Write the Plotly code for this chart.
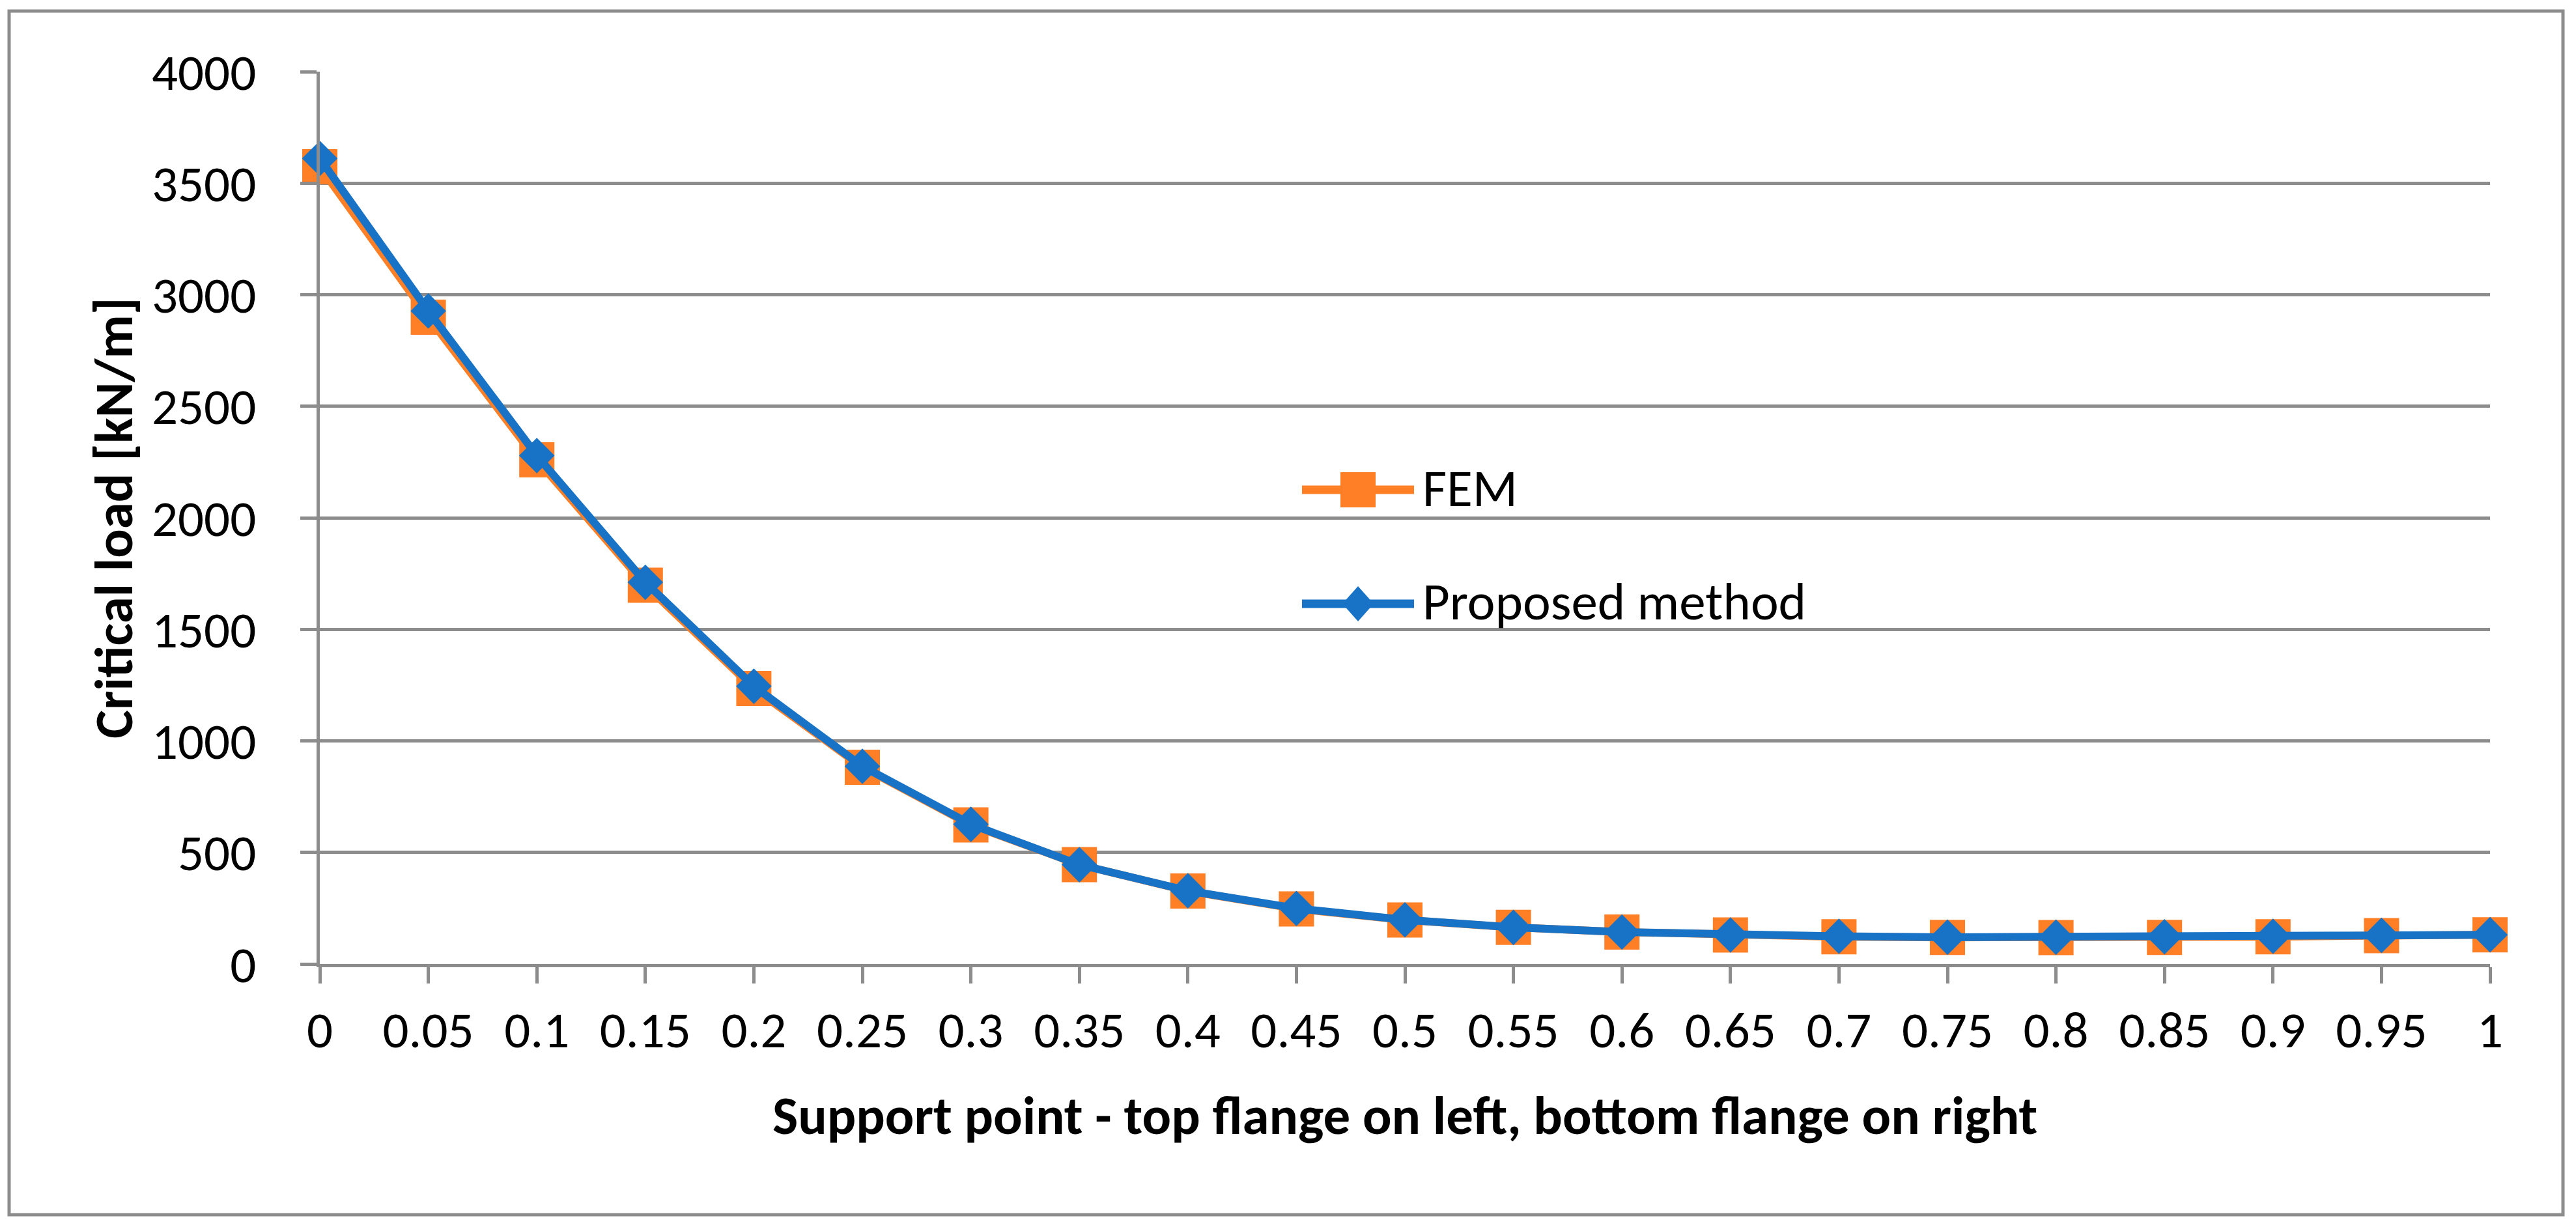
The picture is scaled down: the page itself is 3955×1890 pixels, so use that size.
import plotly.graph_objects as go

support_point = [0, 0.05, 0.1, 0.15, 0.2, 0.25, 0.3, 0.35, 0.4, 0.45, 0.5,
                 0.55, 0.6, 0.65, 0.7, 0.75, 0.8, 0.85, 0.9, 0.95, 1]
tick_labels = ["0", "0.05", "0.1", "0.15", "0.2", "0.25", "0.3", "0.35", "0.4", "0.45", "0.5",
               "0.55", "0.6", "0.65", "0.7", "0.75", "0.8", "0.85", "0.9", "0.95", "1"]
fem = [3574, 2899, 2260, 1698, 1235, 882, 623, 445, 327, 247, 197,
       164, 143, 130, 122, 119, 118, 119, 122, 127, 131]
proposed = [3611, 2927, 2279, 1711, 1245, 886, 626, 445, 328, 249, 198,
            164, 143, 130, 124, 120, 120, 122, 124, 128, 131]
y_ticks = [0, 500, 1000, 1500, 2000, 2500, 3000, 3500, 4000]
series_names = ["FEM", "Proposed method"]

ORANGE = "#FF7F27"
BLUE = "#1873C6"
GRID = "#8C8C8C"
FONT = "Carlito, Lato, sans-serif"
TICK_SIZE = 79
LEGEND_SIZE = 81
TITLE_SIZE = 83

W, H = 3955, 1890
L, R, T, B = 491, 3823, 110, 1480
PW, PH = R - L, B - T


def px(x):
    return (x - L) / PW


def py(y):
    return (B - y) / PH


fig = go.Figure()
fig.add_trace(go.Scatter(
    x=support_point, y=fem, name=series_names[0], mode="lines+markers",
    line=dict(color=ORANGE, width=12),
    marker=dict(symbol="square", size=54, color=ORANGE),
    showlegend=False, cliponaxis=False))
fig.add_trace(go.Scatter(
    x=support_point, y=proposed, name=series_names[1], mode="lines+markers",
    line=dict(color=BLUE, width=12),
    marker=dict(symbol="diamond", size=42, color=BLUE),
    showlegend=False, cliponaxis=False))

fig.update_layout(
    width=W, height=H,
    margin=dict(l=L, r=W - R, t=T, b=H - B, pad=0),
    paper_bgcolor="white", plot_bgcolor="white",
    font=dict(family=FONT, size=TICK_SIZE, color="black"),
    xaxis=dict(
        range=[0, 1], tickmode="array", tickvals=support_point, ticktext=tick_labels,
        showgrid=False, zeroline=False,
        showline=True, linecolor=GRID, linewidth=5,
        ticks="outside", ticklen=25, tickwidth=5, tickcolor=GRID,
        ticklabelstandoff=3, tickfont=dict(size=TICK_SIZE, family=FONT),
    ),
    yaxis=dict(
        range=[0, 4000], tickmode="array", tickvals=y_ticks,
        ticktext=[str(v) for v in y_ticks],
        showgrid=True, gridcolor=GRID, gridwidth=5, zeroline=False,
        showline=True, linecolor=GRID, linewidth=5,
        ticks="outside", ticklen=25, tickwidth=5, tickcolor=GRID,
        ticklabelstandoff=52, tickfont=dict(size=TICK_SIZE, family=FONT),
    ),
)

shapes = []
# chart border
shapes.append(dict(type="rect", xref="paper", yref="paper",
                   x0=px(14), x1=px(3935), y0=py(1865), y1=py(17),
                   line=dict(color=GRID, width=5), fillcolor="rgba(0,0,0,0)", layer="below"))
# custom legend samples
leg_cx = px(2085)
for (cy, color, kind) in [(752, ORANGE, "square"), (927, BLUE, "diamond")]:
    shapes.append(dict(type="line", xref="paper", yref="paper",
                       xsizemode="pixel", xanchor=leg_cx, x0=-86, x1=86,
                       ysizemode="pixel", yanchor=py(cy), y0=0, y1=0,
                       line=dict(color=color, width=13)))
    if kind == "square":
        shapes.append(dict(type="rect", xref="paper", yref="paper",
                           xsizemode="pixel", xanchor=leg_cx, x0=-27, x1=27,
                           ysizemode="pixel", yanchor=py(cy), y0=-27, y1=27,
                           fillcolor=color, line=dict(width=0)))
    else:
        shapes.append(dict(type="path", xref="paper", yref="paper",
                           xsizemode="pixel", xanchor=leg_cx,
                           ysizemode="pixel", yanchor=py(cy),
                           path="M 0 -27 L 24 0 L 0 27 L -24 0 Z",
                           fillcolor=color, line=dict(width=0)))
fig.update_layout(shapes=shapes)

annotations = [
    dict(text=series_names[0], xref="paper", yref="paper", x=px(2182), y=py(749),
         xanchor="left", yanchor="middle", showarrow=False,
         font=dict(size=LEGEND_SIZE, family=FONT, color="black")),
    dict(text=series_names[1], xref="paper", yref="paper", x=px(2182), y=py(924),
         xanchor="left", yanchor="middle", showarrow=False,
         font=dict(size=LEGEND_SIZE, family=FONT, color="black")),
    dict(text="<b>Support point - top flange on left, bottom flange on right</b>",
         xref="paper", yref="paper", x=0.5, y=py(1712),
         xanchor="center", yanchor="middle", showarrow=False,
         font=dict(size=TITLE_SIZE, family=FONT, color="black")),
    dict(text="<b>Critical load [kN/m]</b>", xref="paper", yref="paper",
         x=px(174), y=py(795), xanchor="center", yanchor="middle",
         textangle=-90, showarrow=False,
         font=dict(size=TITLE_SIZE, family=FONT, color="black")),
]
fig.update_layout(annotations=annotations)

fig.write_html("out.html", config={"displayModeBar": False},
               post_script="document.body.style.margin='0';")
